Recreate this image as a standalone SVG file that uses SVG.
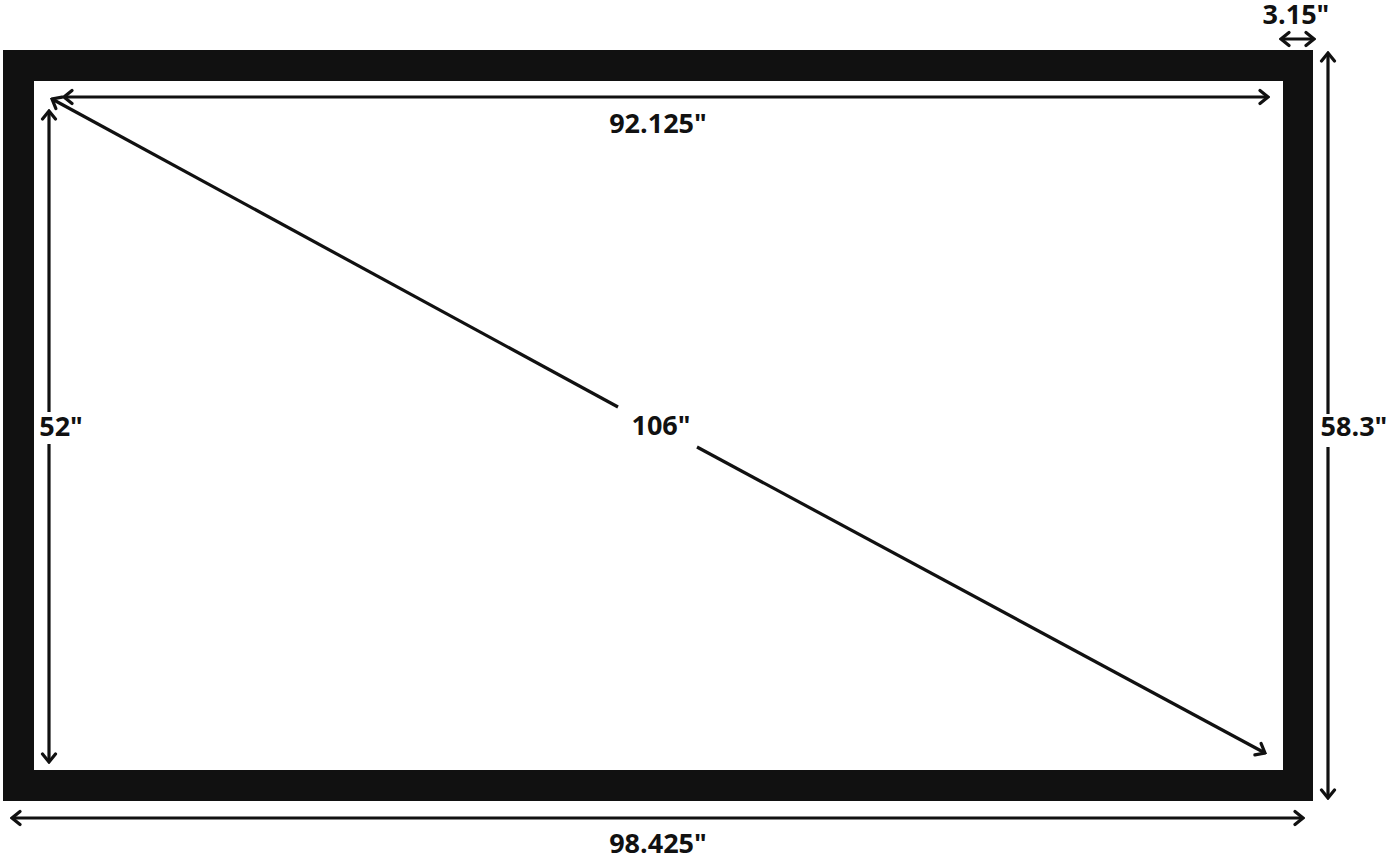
<svg xmlns="http://www.w3.org/2000/svg" width="1388" height="857" viewBox="0 0 1388 857">
<defs>
<style>
.dim{stroke:#111;stroke-width:3.2;fill:none;marker-start:url(#ah);marker-end:url(#ah)}
.lbl{font-family:"Open Sans","Noto Sans","Liberation Sans",sans-serif;font-weight:700;font-size:27px;fill:#111;text-anchor:middle}
</style>
<marker id="ah" markerUnits="userSpaceOnUse" viewBox="-12 -9 14 18" markerWidth="14" markerHeight="18" refX="0" refY="0" orient="auto-start-reverse">
<path d="M-8,-6.5 L0,0 L-8,6.5" fill="none" stroke="#111" stroke-width="3.2" stroke-linecap="round" stroke-linejoin="miter"/>
</marker>
</defs>
<rect width="1388" height="857" fill="#fff"/>
<g id="frame">
<path d="M3,50 H1313 V801 H3 Z M34,81 V770 H1283 V81 Z" fill="#111" fill-rule="evenodd"/>
</g>
<g id="connectors">
<line class="dim" x1="1281" y1="39" x2="1314" y2="39"/>
<line class="dim" x1="64" y1="97" x2="1268" y2="97"/>
<line class="dim" style="marker-end:none" x1="1328" y1="53" x2="1328" y2="414"/>
<line class="dim" style="marker-start:none" x1="1328" y1="447" x2="1328" y2="798"/>
<line class="dim" style="marker-end:none" x1="49" y1="111" x2="49" y2="412"/>
<line class="dim" style="marker-start:none" x1="49" y1="444" x2="49" y2="762"/>
<line class="dim" style="marker-end:none" x1="52" y1="99" x2="618" y2="407"/>
<line class="dim" style="marker-start:none" x1="697" y1="447" x2="1265" y2="753"/>
<line class="dim" x1="12" y1="818" x2="1303" y2="818"/>
</g>
<g id="label-315"><text class="lbl" x="1296" y="24">3.15"</text></g>
<g id="label-92125"><text class="lbl" x="658" y="133">92.125"</text></g>
<g id="label-106"><text class="lbl" x="661" y="435">106"</text></g>
<g id="label-52"><text class="lbl" x="61" y="436">52"</text></g>
<g id="label-583"><text class="lbl" x="1354" y="436">58.3"</text></g>
<g id="label-98425"><text class="lbl" x="658" y="853">98.425"</text></g>
</svg>
